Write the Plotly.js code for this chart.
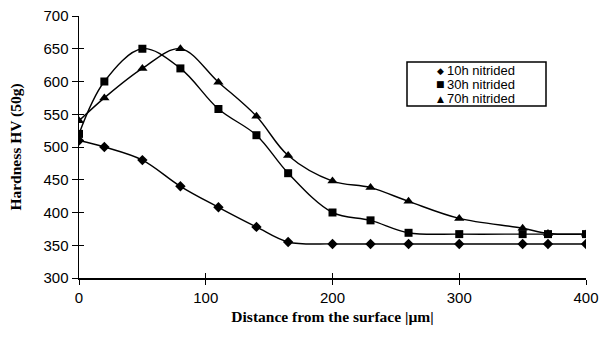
<!DOCTYPE html>
<html>
<head>
<meta charset="utf-8">
<script src="https://cdn.plot.ly/plotly-3.0.1.min.js"></script>
<style>html,body{margin:0;padding:0;background:#fff;}#chart{width:600px;height:340px;}</style>
</head>
<body>
<div id="chart"></div>
<script>
const distance = [0, 20, 50, 80, 110, 140, 165, 200, 230, 260, 300, 350, 370, 400];
const hv10h = [510, 500, 480, 440, 408, 378, 355, 352, 352, 352, 352, 352, 352, 352];
const hv30h = [520, 600, 650, 620, 558, 518, 460, 400, 388, 369, 367, 367, 367, 367];
const hv70h = [540, 575, 620, 650, 599, 547, 487, 448, 438, 417, 391, 376, 368, 367];
const seriesNames = ['10h nitrided', '30h nitrided', '70h nitrided'];
const legendGlyphs = ['\u25C6', '\u25A0', '\u25B2'];
const xTicks = [0, 100, 200, 300, 400];
const yTicks = [300, 350, 400, 450, 500, 550, 600, 650, 700];

const M = {l: 79, r: 14, t: 16, b: 62};
const W = 600, H = 340;
const pw = W - M.l - M.r, ph = H - M.t - M.b;
const px = x => (x - M.l) / pw;
const py = y => (H - M.b - y) / ph;

const symbols = ['diamond', 'square', 'triangle-up'];
const sizes = [8, 8, 9];
const ys = [hv10h, hv30h, hv70h];
const traces = ys.map((y, i) => ({
  x: distance, y: y, name: seriesNames[i], type: 'scatter', mode: 'lines+markers',
  line: {shape: 'spline', smoothing: 1, color: '#000', width: 1.4},
  marker: {symbol: symbols[i], size: sizes[i], color: '#000'}, showlegend: false
}));
traces.push({x: [0], y: [300], xaxis: 'x2', yaxis: 'y2', mode: 'markers', marker: {opacity: 0}, showlegend: false, hoverinfo: 'skip'});

const legFont = {family: 'Arial, Liberation Sans, sans-serif', size: 13, color: '#000'};
const rowY = [70.5, 84.5, 98.5];
const annotations = [];
seriesNames.forEach((n, i) => {
  annotations.push({xref: 'paper', yref: 'paper', x: px(440), y: py(rowY[i]), xanchor: 'center', yanchor: 'middle',
    text: legendGlyphs[i], showarrow: false, borderpad: 0, font: {family: 'DejaVu Sans', size: 9, color: '#000'}});
  annotations.push({xref: 'paper', yref: 'paper', x: px(446), y: py(rowY[i]), xanchor: 'left', yanchor: 'middle',
    text: n, showarrow: false, borderpad: 0, font: legFont});
});

const tickFont = {family: 'Arial, Liberation Sans, sans-serif', size: 15, color: '#000'};
const layout = {
  width: W, height: H, margin: M,
  paper_bgcolor: '#fff', plot_bgcolor: '#fff',
  showlegend: false,
  annotations: annotations,
  shapes: [{type: 'rect', xref: 'paper', yref: 'paper', x0: px(407), x1: px(546), y0: py(106), y1: py(62),
    line: {color: '#000', width: 1.5}, fillcolor: 'rgba(0,0,0,0)'}],
  xaxis: {range: [0, 400], tickvals: xTicks, ticks: 'outside', ticklen: 5, tickwidth: 1, tickcolor: '#000',
    showline: true, linecolor: '#000', linewidth: 1.5, showgrid: false, zeroline: false,
    tickfont: tickFont,
    title: {text: 'Distance from the surface |µm|', font: {family: 'Times New Roman, Liberation Serif, serif', size: 15.5, color: '#000', weight: 'bold'}, standoff: 6}},
  yaxis: {range: [300, 700], tickvals: yTicks, ticks: 'outside', ticklen: 6, tickwidth: 1, tickcolor: '#000',
    showline: true, linecolor: '#000', linewidth: 1.5, showgrid: false, zeroline: false,
    tickfont: tickFont,
    title: {text: 'Hardness HV (50g)', font: {family: 'Times New Roman, Liberation Serif, serif', size: 15.5, color: '#000', weight: 'bold'}, standoff: 18}},
  xaxis2: {overlaying: 'x', range: [0, 400], tickvals: xTicks, ticks: 'inside', ticklen: 5, tickcolor: '#000',
    showticklabels: false, showgrid: false, zeroline: false, showline: false},
  yaxis2: {overlaying: 'y', range: [300, 700], tickvals: yTicks, ticks: 'inside', ticklen: 5, tickcolor: '#000',
    showticklabels: false, showgrid: false, zeroline: false, showline: false}
};
Plotly.newPlot('chart', traces, layout, {staticPlot: true, displayModeBar: false});
</script>
</body>
</html>
